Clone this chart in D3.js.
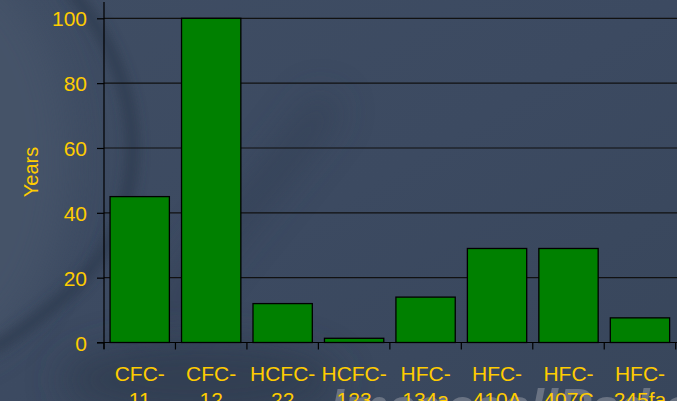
<!DOCTYPE html>
<html><head><meta charset="utf-8">
<script src="https://cdn.jsdelivr.net/npm/d3@7"></script>
<style>html,body{margin:0;padding:0;background:#3b495f;overflow:hidden}svg{display:block}</style>
</head><body>
<svg id="c" width="677" height="401"></svg>
<script>
const categories = [["CFC-","11"],["CFC-","12"],["HCFC-","22"],["HCFC-","123"],["HFC-","134a"],["HFC-","410A"],["HFC-","407C"],["HFC-","245fa"]];
const lifetimes = [45, 100, 12, 1.3, 14, 29, 29, 7.6];
const yTicks = [0, 20, 40, 60, 80, 100];
const yTitle = "Years";

const W = 677, H = 401;
const svg = d3.select("#c");
const defs = svg.append("defs");

// background
const lg = defs.append("linearGradient").attr("id","bg").attr("x1",0).attr("y1",0).attr("x2",1).attr("y2",1);
lg.append("stop").attr("offset","0%").attr("stop-color","#3f4d63");
lg.append("stop").attr("offset","50%").attr("stop-color","#3c4a61");
lg.append("stop").attr("offset","100%").attr("stop-color","#38465b");
svg.append("rect").attr("width",W).attr("height",H).attr("fill","url(#bg)");
const blur = defs.append("filter").attr("id","bl").attr("x","-50%").attr("y","-50%").attr("width","200%").attr("height","200%");
blur.append("feGaussianBlur").attr("stdDeviation",6);
const blur2 = defs.append("filter").attr("id","bl2").attr("x","-50%").attr("y","-50%").attr("width","200%").attr("height","200%");
blur2.append("feGaussianBlur").attr("stdDeviation",18);
const bgG = svg.append("g");
bgG.append("ellipse").attr("cx",-60).attr("cy",160).attr("rx",130).attr("ry",200).attr("fill","#46546b").attr("filter","url(#bl2)").attr("opacity",0.8);
bgG.append("path").attr("d","M70,-10 C150,80 160,220 60,300 C30,325 10,340 -10,350")
  .attr("fill","none").attr("stroke","#2c374b").attr("stroke-width",12).attr("filter","url(#bl)").attr("opacity",0.7);
bgG.append("path").attr("d","M160,330 C200,250 260,200 330,100")
  .attr("fill","none").attr("stroke","#2f3a4f").attr("stroke-width",30).attr("filter","url(#bl2)").attr("opacity",0.5);
bgG.append("ellipse").attr("cx",200).attr("cy",380).attr("rx",140).attr("ry",40).attr("fill","#2f3a4e").attr("filter","url(#bl2)").attr("opacity",0.7);

// watermark
svg.append("text").attr("x",330).attr("y",424).attr("font-family","Liberation Sans, Arial, sans-serif")
  .attr("font-size",50).attr("font-style","italic").attr("font-weight","bold")
  .attr("fill","#7b8290").attr("opacity",0.75).text("ImagesallPad.com");

const x = d3.scaleBand().domain(d3.range(categories.length)).range([104, 675.7]).paddingInner(0.17).paddingOuter(0.085);
const y = d3.scaleLinear().domain([0, 100]).range([342.5, 18.3]);
const fam = "Liberation Sans, Arial, sans-serif";
const yellow = "#ffcc00";

// gridlines
svg.append("g").selectAll("line").data(yTicks.filter(d=>d>0)).join("line")
  .attr("x1",104).attr("x2",W).attr("y1",d=>y(d)).attr("y2",d=>y(d))
  .attr("stroke","#111").attr("stroke-width",1.2);

// bars
svg.append("g").selectAll("rect").data(lifetimes).join("rect")
  .attr("x",(d,i)=>x(i)).attr("width",x.bandwidth())
  .attr("y",d=>y(d)).attr("height",d=>y(0)-y(d))
  .attr("fill","#008000").attr("stroke","#000").attr("stroke-width",1.3);

// y axis
const yAxis = d3.axisLeft(y).tickValues(yTicks).tickSize(7).tickPadding(10).tickSizeOuter(0);
const ya = svg.append("g").attr("transform","translate(104,0)").call(yAxis);
ya.select(".domain").remove();
ya.append("line").attr("x1",0).attr("x2",0).attr("y1",2).attr("y2",349).attr("stroke","#000").attr("stroke-width",1.2);
ya.selectAll(".tick line").attr("stroke","#000").attr("stroke-width",1.2);
ya.selectAll(".tick text").attr("fill",yellow).attr("font-family",fam).attr("font-size",21).attr("dy","0.36em");

// x axis
const xa = svg.append("g").attr("transform",`translate(0,${y(0)})`);
xa.append("line").attr("x1",97).attr("x2",W).attr("y1",0).attr("y2",0).attr("stroke","#000").attr("stroke-width",1.2);
const step = x.step();
const tickXs = d3.range(categories.length+1).map(i=>104 + i*step);
xa.selectAll("line.t").data(tickXs).join("line").attr("class","t")
  .attr("x1",d=>d).attr("x2",d=>d).attr("y1",0).attr("y2",7).attr("stroke","#000").attr("stroke-width",1.2);
const lbl = xa.selectAll("text.l").data(categories).join("text").attr("class","l")
  .attr("text-anchor","middle").attr("fill",yellow).attr("font-family",fam).attr("font-size",21)
  .attr("transform",(d,i)=>`translate(${x(i)+x.bandwidth()/2},0)`);
lbl.append("tspan").attr("x",0).attr("y",38).text(d=>d[0]);
lbl.append("tspan").attr("x",0).attr("y",64).text(d=>d[1]);

// y title
svg.append("text").attr("transform","translate(38,172) rotate(-90)").attr("text-anchor","middle")
  .attr("fill",yellow).attr("font-family",fam).attr("font-size",20).text(yTitle);
</script>
</body></html>
